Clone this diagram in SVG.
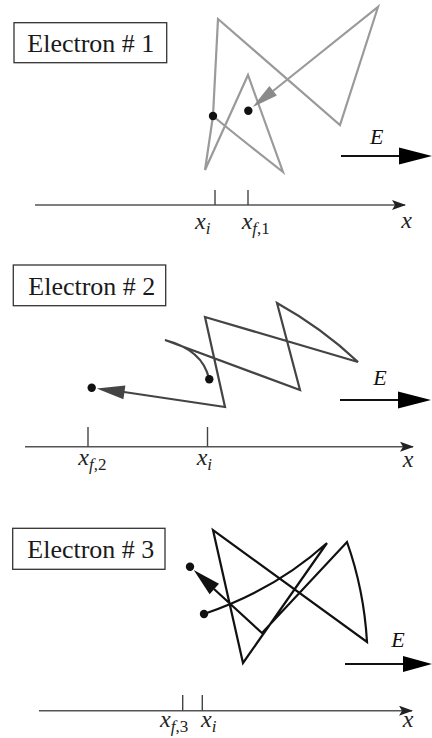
<svg xmlns="http://www.w3.org/2000/svg" width="432" height="738" viewBox="0 0 432 738">
<style>
.box{fill:#fff;stroke:#333;stroke-width:1.3}
.lbl{font-family:"Liberation Serif","Times New Roman",serif;font-size:26px;fill:#1a1a1a}
.ax{stroke:#555;stroke-width:1.6;fill:none}
.tk{stroke:#444;stroke-width:1.4}
.var{font-family:"Liberation Serif","Times New Roman",serif;font-size:24px;font-style:italic;fill:#222}
.sub{font-size:17px}
.rm{font-style:normal}
.E{font-family:"Liberation Serif","Times New Roman",serif;font-size:22px;font-style:italic;fill:#111}
.ef{stroke:#111;stroke-width:2;fill:none}
.p1{stroke:#9a9a9a;stroke-width:2.2;fill:none;stroke-linejoin:miter}
.p2{stroke:#444;stroke-width:2.2;fill:none}
.p3{stroke:#111;stroke-width:2.2;fill:none}
</style>
<defs>
<marker id="axh" viewBox="0 0 14 10" refX="13" refY="5" markerWidth="14" markerHeight="10" markerUnits="userSpaceOnUse" orient="auto">
<path d="M0,0 L14,5 L0,10 L3,5 Z" fill="#222"/>
</marker>
</defs>

<g id="electron1">
<rect class="box" x="14" y="22.7" width="152.7" height="40"/>
<text class="lbl" x="27.3" y="52.3">Electron # 1</text>
</g>
<g id="electron2">
<rect class="box" x="13.3" y="265" width="152.4" height="40.7"/>
<text class="lbl" x="28.3" y="295">Electron # 2</text>
</g>
<g id="electron3">
<rect class="box" x="12.7" y="528.3" width="152.3" height="41"/>
<text class="lbl" x="27.3" y="558.3">Electron # 3</text>
</g>

<g id="path1">
<path class="p1" d="M213,116 Q232,132 283,172 L248,75 L205,170 L213,116 L218,19 L340,125 L378,7 L273,91"/>
<polygon points="252.7,107 276.9,95.5 269.4,86.1" fill="#8a8a8a"/>
<circle cx="213" cy="116" r="4.2" fill="#111"/>
<circle cx="248.3" cy="110.7" r="4.2" fill="#111"/>
</g>
<g id="path2">
<path class="p2" d="M209,379 Q203,350 165,340 L300,390 L277,303 Q322,328 358,362 L205,317 L225,407 L124,392"/>
<polygon points="96.7,388.4 125.4,385.5 123.4,399.3" fill="#444"/>
<circle cx="209.3" cy="379.3" r="4.2" fill="#111"/>
<circle cx="91.7" cy="387.7" r="4.2" fill="#111"/>
</g>
<g id="path3">
<path class="p3" d="M204,614 Q275,590 327,543 L243,663 L213,530 L367,642 Q364,590 347,542 L262,633 L214,589"/>
<polygon points="193.7,570.1 219,583.8 209.6,594.2" fill="#111"/>
<circle cx="204" cy="614" r="4.2" fill="#111"/>
<circle cx="190" cy="566.7" r="4.2" fill="#111"/>
</g>

<g id="field1">
<line class="ef" x1="341" y1="156" x2="400" y2="156"/>
<polygon points="399,147.5 432,156 399,164.5" fill="#000"/>
<text class="E" x="376.7" y="144" text-anchor="middle">E</text>
</g>
<g id="field2">
<line class="ef" x1="340" y1="400" x2="399" y2="400"/>
<polygon points="398,391.5 431,400 398,408.5" fill="#000"/>
<text class="E" x="380" y="385" text-anchor="middle">E</text>
</g>
<g id="field3">
<line class="ef" x1="345" y1="664" x2="404" y2="664"/>
<polygon points="403,656 432,664 403,672" fill="#000"/>
<text class="E" x="398" y="646.7" text-anchor="middle">E</text>
</g>

<g id="axis1">
<line class="ax" x1="35" y1="205" x2="405" y2="205" marker-end="url(#axh)"/>
<line class="tk" x1="215" y1="190" x2="215" y2="205"/>
<line class="tk" x1="248" y1="190" x2="248" y2="205"/>
<text class="var" x="195" y="229">x<tspan class="sub" dy="5">i</tspan></text>
<text class="var" x="241.7" y="229">x<tspan class="sub" dy="5">f<tspan class="rm">,1</tspan></tspan></text>
<text class="var" x="406.7" y="228" text-anchor="middle">x</text>
</g>
<g id="axis2">
<line class="ax" x1="25" y1="446.7" x2="413" y2="446.7" marker-end="url(#axh)"/>
<line class="tk" x1="88" y1="427" x2="88" y2="446.7"/>
<line class="tk" x1="207.5" y1="427" x2="207.5" y2="446.7"/>
<text class="var" x="78.3" y="465">x<tspan class="sub" dy="5">f<tspan class="rm">,2</tspan></tspan></text>
<text class="var" x="196.7" y="465">x<tspan class="sub" dy="5">i</tspan></text>
<text class="var" x="408" y="467" text-anchor="middle">x</text>
</g>
<g id="axis3">
<line class="ax" x1="39" y1="710.7" x2="412" y2="710.7" marker-end="url(#axh)"/>
<line class="tk" x1="182.7" y1="695" x2="182.7" y2="710.7"/>
<line class="tk" x1="202.3" y1="695" x2="202.3" y2="710.7"/>
<text class="var" x="160" y="726.7">x<tspan class="sub" dy="5">f<tspan class="rm">,3</tspan></tspan></text>
<text class="var" x="201" y="726.7">x<tspan class="sub" dy="5">i</tspan></text>
<text class="var" x="408" y="727" text-anchor="middle">x</text>
</g>
</svg>
